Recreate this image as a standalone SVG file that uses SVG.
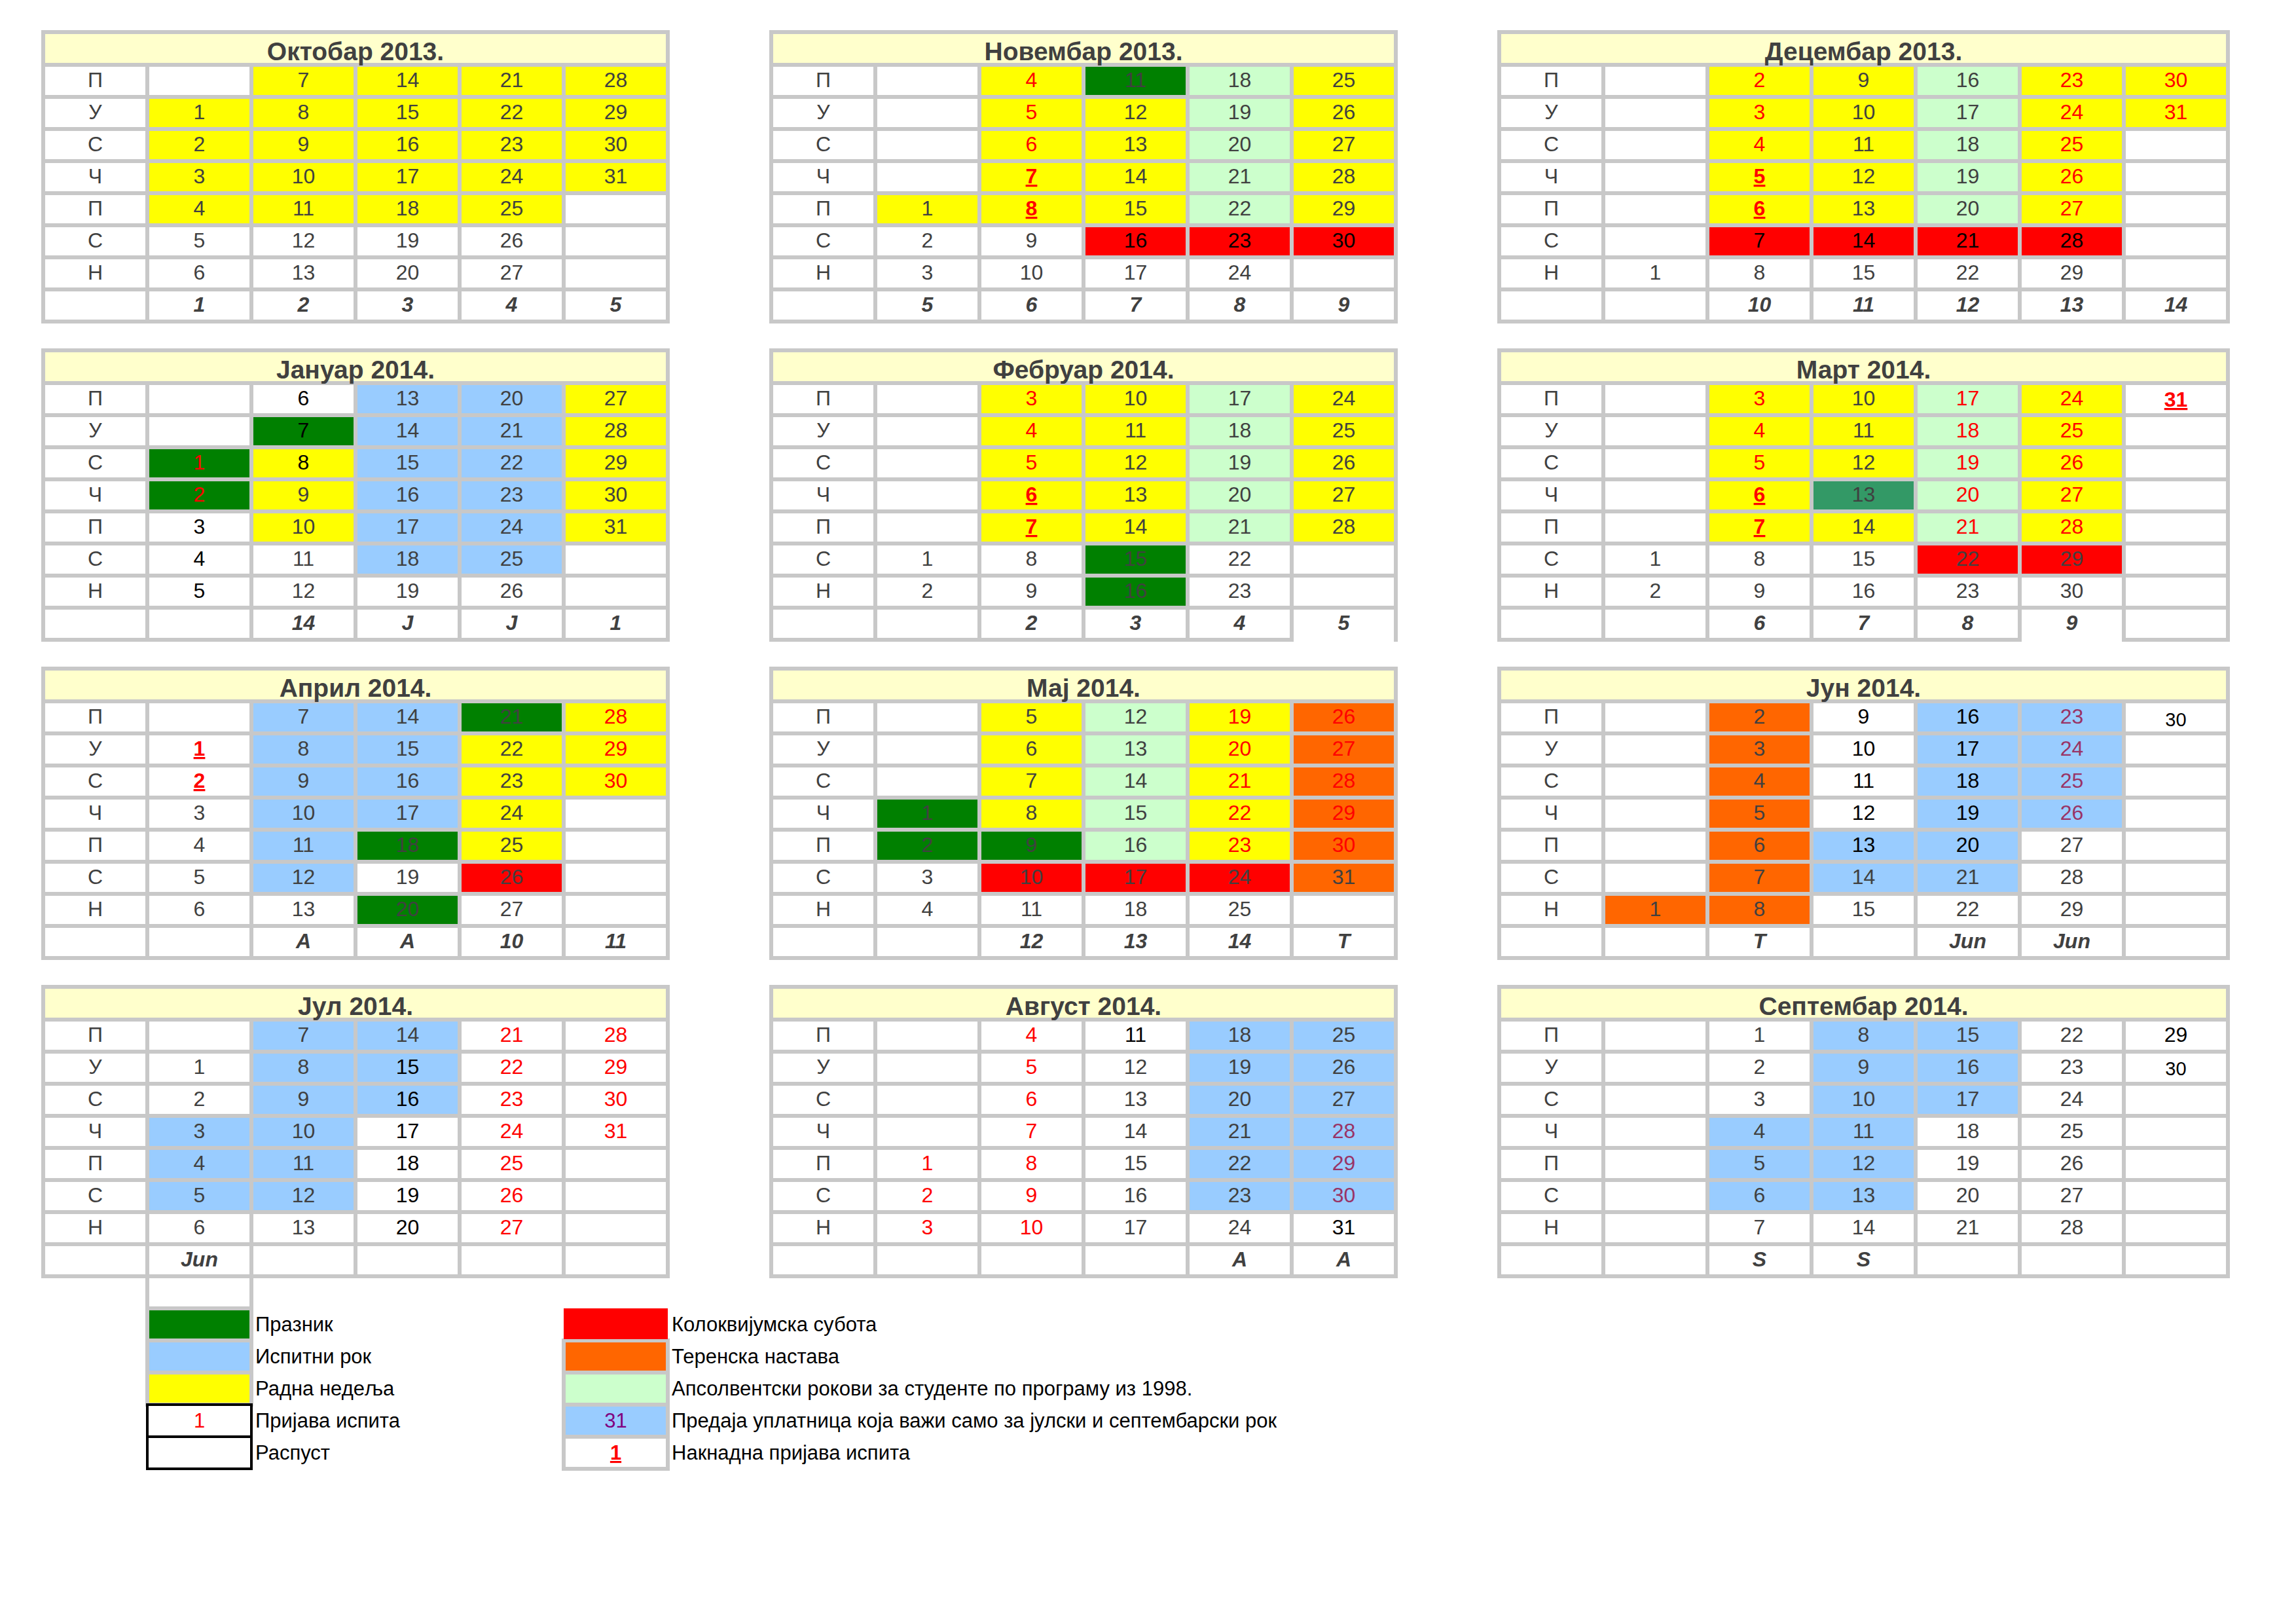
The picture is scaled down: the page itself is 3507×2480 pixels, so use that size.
<svg xmlns="http://www.w3.org/2000/svg" width="3507" height="2480" viewBox="0 0 3507 2480">
<style>
.m text{font-family:"Liberation Sans",Arial,sans-serif;font-size:32px;fill:#404040;text-anchor:middle}
.m .k{fill:#000}
.m .r{fill:#f00}
.m .p{fill:#993366}
.m .u{fill:#f00;font-weight:bold;text-decoration:underline}
.m .w{font-weight:bold;font-style:italic}
.m .t{font-size:39px;font-weight:bold}
.T{fill:#ffc}.Y{fill:#ff0}.G{fill:#008000}.L{fill:#cfc}.B{fill:#9cf}.R{fill:#f00}.O{fill:#f60}.S{fill:#396}
.lg text{font-family:"Liberation Sans",Arial,sans-serif;font-size:31px;fill:#000}
.lg .c{text-anchor:middle}
.gb{stroke:#c8c8c8;stroke-width:6}
.bb{stroke:#000;stroke-width:4}
</style>
<defs>
<path id="g6" fill="none" stroke="#c8c8c8" stroke-width="6" stroke-linecap="square" d="M0,0H954M0,50H954M0,99H954M0,148H954M0,197H954M0,246H954M0,295H954M0,344H954M0,393H954M0,442H954M0,0V442M159,50V442M318,50V442M477,50V442M636,50V442M795,50V442M954,0V442"/>
<path id="g7" fill="none" stroke="#c8c8c8" stroke-width="6" stroke-linecap="square" d="M0,0H1113M0,50H1113M0,99H1113M0,148H1113M0,197H1113M0,246H1113M0,295H1113M0,344H1113M0,393H1113M0,442H1113M0,0V442M159,50V442M318,50V442M477,50V442M636,50V442M795,50V442M954,50V442M1113,0V442"/>
<g id="dl" font-family="Liberation Sans, Arial, sans-serif" font-size="32" fill="#404040" text-anchor="middle">
<text x="79.5" y="84">П</text><text x="79.5" y="133">У</text><text x="79.5" y="182">С</text><text x="79.5" y="231">Ч</text><text x="79.5" y="280">П</text><text x="79.5" y="329">С</text><text x="79.5" y="378">Н</text>
</g>
</defs>
<rect width="3507" height="2480" fill="#fff"/>

<g id="oct" class="m" transform="translate(66,49)">
<rect width="954" height="442" fill="#fff"/><rect width="954" height="50" class="T"/>
<rect class="Y" x="159" y="99" width="159" height="196"/>
<rect class="Y" x="318" y="50" width="477" height="245"/>
<rect class="Y" x="795" y="50" width="159" height="196"/>
<use href="#g6"/><use href="#dl"/>
<text class="t" x="477" y="43">Октобар 2013.</text>
<text x="238.5" y="133">1</text><text x="238.5" y="182">2</text><text x="238.5" y="231">3</text><text x="238.5" y="280">4</text><text x="238.5" y="329">5</text><text x="238.5" y="378">6</text>
<text x="397.5" y="84">7</text><text x="397.5" y="133">8</text><text x="397.5" y="182">9</text><text x="397.5" y="231">10</text><text x="397.5" y="280">11</text><text x="397.5" y="329">12</text><text x="397.5" y="378">13</text>
<text x="556.5" y="84">14</text><text x="556.5" y="133">15</text><text x="556.5" y="182">16</text><text x="556.5" y="231">17</text><text x="556.5" y="280">18</text><text x="556.5" y="329">19</text><text x="556.5" y="378">20</text>
<text x="715.5" y="84">21</text><text x="715.5" y="133">22</text><text x="715.5" y="182">23</text><text x="715.5" y="231">24</text><text x="715.5" y="280">25</text><text x="715.5" y="329">26</text><text x="715.5" y="378">27</text>
<text x="874.5" y="84">28</text><text x="874.5" y="133">29</text><text x="874.5" y="182">30</text><text x="874.5" y="231">31</text>
<text class="w" x="238.5" y="427">1</text><text class="w" x="397.5" y="427">2</text><text class="w" x="556.5" y="427">3</text><text class="w" x="715.5" y="427">4</text><text class="w" x="874.5" y="427">5</text>
</g>

<g id="nov" class="m" transform="translate(1178,49)">
<rect width="954" height="442" fill="#fff"/><rect width="954" height="50" class="T"/>
<rect class="Y" x="159" y="246" width="159" height="49"/>
<rect class="Y" x="318" y="50" width="159" height="245"/>
<rect class="G" x="477" y="50" width="159" height="49"/>
<rect class="Y" x="477" y="99" width="159" height="196"/>
<rect class="L" x="636" y="50" width="159" height="245"/>
<rect class="Y" x="795" y="50" width="159" height="245"/>
<rect class="R" x="477" y="295" width="477" height="49"/>
<use href="#g6"/><use href="#dl"/>
<text class="t" x="477" y="43">Новембар 2013.</text>
<text x="238.5" y="280">1</text><text x="238.5" y="329">2</text><text x="238.5" y="378">3</text>
<text class="r" x="397.5" y="84">4</text><text class="r" x="397.5" y="133">5</text><text class="r" x="397.5" y="182">6</text><text class="u" x="397.5" y="231">7</text><text class="u" x="397.5" y="280">8</text><text x="397.5" y="329">9</text><text x="397.5" y="378">10</text>
<text x="556.5" y="84">11</text><text x="556.5" y="133">12</text><text x="556.5" y="182">13</text><text x="556.5" y="231">14</text><text x="556.5" y="280">15</text><text class="k" x="556.5" y="329">16</text><text x="556.5" y="378">17</text>
<text x="715.5" y="84">18</text><text x="715.5" y="133">19</text><text x="715.5" y="182">20</text><text x="715.5" y="231">21</text><text x="715.5" y="280">22</text><text class="k" x="715.5" y="329">23</text><text x="715.5" y="378">24</text>
<text x="874.5" y="84">25</text><text x="874.5" y="133">26</text><text x="874.5" y="182">27</text><text x="874.5" y="231">28</text><text x="874.5" y="280">29</text><text class="k" x="874.5" y="329">30</text>
<text class="w" x="238.5" y="427">5</text><text class="w" x="397.5" y="427">6</text><text class="w" x="556.5" y="427">7</text><text class="w" x="715.5" y="427">8</text><text class="w" x="874.5" y="427">9</text>
</g>

<g id="dec" class="m" transform="translate(2290,49)">
<rect width="1113" height="442" fill="#fff"/><rect width="1113" height="50" class="T"/>
<rect class="Y" x="318" y="50" width="318" height="245"/>
<rect class="L" x="636" y="50" width="159" height="245"/>
<rect class="Y" x="795" y="50" width="159" height="245"/>
<rect class="Y" x="954" y="50" width="159" height="98"/>
<rect class="R" x="318" y="295" width="636" height="49"/>
<use href="#g7"/><use href="#dl"/>
<text class="t" x="556.5" y="43">Децембар 2013.</text>
<text x="238.5" y="378">1</text>
<text class="r" x="397.5" y="84">2</text><text class="r" x="397.5" y="133">3</text><text class="r" x="397.5" y="182">4</text><text class="u" x="397.5" y="231">5</text><text class="u" x="397.5" y="280">6</text><text class="k" x="397.5" y="329">7</text><text x="397.5" y="378">8</text>
<text x="556.5" y="84">9</text><text x="556.5" y="133">10</text><text x="556.5" y="182">11</text><text x="556.5" y="231">12</text><text x="556.5" y="280">13</text><text class="k" x="556.5" y="329">14</text><text x="556.5" y="378">15</text>
<text x="715.5" y="84">16</text><text x="715.5" y="133">17</text><text x="715.5" y="182">18</text><text x="715.5" y="231">19</text><text x="715.5" y="280">20</text><text class="k" x="715.5" y="329">21</text><text x="715.5" y="378">22</text>
<text class="r" x="874.5" y="84">23</text><text class="r" x="874.5" y="133">24</text><text class="r" x="874.5" y="182">25</text><text class="r" x="874.5" y="231">26</text><text class="r" x="874.5" y="280">27</text><text class="k" x="874.5" y="329">28</text><text x="874.5" y="378">29</text>
<text class="r" x="1033.5" y="84">30</text><text class="r" x="1033.5" y="133">31</text>
<text class="w" x="397.5" y="427">10</text><text class="w" x="556.5" y="427">11</text><text class="w" x="715.5" y="427">12</text><text class="w" x="874.5" y="427">13</text><text class="w" x="1033.5" y="427">14</text>
</g>

<g id="jan" class="m" transform="translate(66,535)">
<rect width="954" height="442" fill="#fff"/><rect width="954" height="50" class="T"/>
<rect class="G" x="159" y="148" width="159" height="98"/>
<rect class="G" x="318" y="99" width="159" height="49"/>
<rect class="Y" x="318" y="148" width="159" height="147"/>
<rect class="B" x="477" y="50" width="318" height="294"/>
<rect class="Y" x="795" y="50" width="159" height="245"/>
<use href="#g6"/><use href="#dl"/>
<text class="t" x="477" y="43">Јануар 2014.</text>
<text class="r" x="238.5" y="182">1</text><text class="r" x="238.5" y="231">2</text><text class="k" x="238.5" y="280">3</text><text class="k" x="238.5" y="329">4</text><text class="k" x="238.5" y="378">5</text>
<text class="k" x="397.5" y="84">6</text><text class="k" x="397.5" y="133">7</text><text class="k" x="397.5" y="182">8</text><text x="397.5" y="231">9</text><text x="397.5" y="280">10</text><text x="397.5" y="329">11</text><text x="397.5" y="378">12</text>
<text x="556.5" y="84">13</text><text x="556.5" y="133">14</text><text x="556.5" y="182">15</text><text x="556.5" y="231">16</text><text x="556.5" y="280">17</text><text x="556.5" y="329">18</text><text x="556.5" y="378">19</text>
<text x="715.5" y="84">20</text><text x="715.5" y="133">21</text><text x="715.5" y="182">22</text><text x="715.5" y="231">23</text><text x="715.5" y="280">24</text><text x="715.5" y="329">25</text><text x="715.5" y="378">26</text>
<text x="874.5" y="84">27</text><text x="874.5" y="133">28</text><text x="874.5" y="182">29</text><text x="874.5" y="231">30</text><text x="874.5" y="280">31</text>
<text class="w" x="397.5" y="427">14</text><text class="w" x="556.5" y="427">J</text><text class="w" x="715.5" y="427">J</text><text class="w" x="874.5" y="427">1</text>
</g>

<g id="feb" class="m" transform="translate(1178,535)">
<rect width="954" height="442" fill="#fff"/><rect width="954" height="50" class="T"/>
<rect class="Y" x="318" y="50" width="318" height="245"/>
<rect class="G" x="477" y="295" width="159" height="98"/>
<rect class="L" x="636" y="50" width="159" height="245"/>
<rect class="Y" x="795" y="50" width="159" height="245"/>
<use href="#g6"/><use href="#dl"/>
<rect x="798" y="439" width="153" height="7" fill="#fff"/>
<text class="t" x="477" y="43">Фебруар 2014.</text>
<text x="238.5" y="329">1</text><text x="238.5" y="378">2</text>
<text class="r" x="397.5" y="84">3</text><text class="r" x="397.5" y="133">4</text><text class="r" x="397.5" y="182">5</text><text class="u" x="397.5" y="231">6</text><text class="u" x="397.5" y="280">7</text><text x="397.5" y="329">8</text><text x="397.5" y="378">9</text>
<text x="556.5" y="84">10</text><text x="556.5" y="133">11</text><text x="556.5" y="182">12</text><text x="556.5" y="231">13</text><text x="556.5" y="280">14</text><text x="556.5" y="329">15</text><text x="556.5" y="378">16</text>
<text x="715.5" y="84">17</text><text x="715.5" y="133">18</text><text x="715.5" y="182">19</text><text x="715.5" y="231">20</text><text x="715.5" y="280">21</text><text x="715.5" y="329">22</text><text x="715.5" y="378">23</text>
<text x="874.5" y="84">24</text><text x="874.5" y="133">25</text><text x="874.5" y="182">26</text><text x="874.5" y="231">27</text><text x="874.5" y="280">28</text>
<text class="w" x="397.5" y="427">2</text><text class="w" x="556.5" y="427">3</text><text class="w" x="715.5" y="427">4</text><text class="w" x="874.5" y="427">5</text>
</g>

<g id="mar" class="m" transform="translate(2290,535)">
<rect width="1113" height="442" fill="#fff"/><rect width="1113" height="50" class="T"/>
<rect class="Y" x="318" y="50" width="159" height="245"/>
<rect class="Y" x="477" y="50" width="159" height="147"/>
<rect class="S" x="477" y="197" width="159" height="49"/>
<rect class="Y" x="477" y="246" width="159" height="49"/>
<rect class="L" x="636" y="50" width="159" height="245"/>
<rect class="Y" x="795" y="50" width="159" height="245"/>
<rect class="R" x="636" y="295" width="318" height="49"/>
<use href="#g7"/><use href="#dl"/>
<rect x="798" y="439" width="153" height="7" fill="#fff"/>
<text class="t" x="556.5" y="43">Март 2014.</text>
<text x="238.5" y="329">1</text><text x="238.5" y="378">2</text>
<text class="r" x="397.5" y="84">3</text><text class="r" x="397.5" y="133">4</text><text class="r" x="397.5" y="182">5</text><text class="u" x="397.5" y="231">6</text><text class="u" x="397.5" y="280">7</text><text x="397.5" y="329">8</text><text x="397.5" y="378">9</text>
<text x="556.5" y="84">10</text><text x="556.5" y="133">11</text><text x="556.5" y="182">12</text><text x="556.5" y="231">13</text><text x="556.5" y="280">14</text><text x="556.5" y="329">15</text><text x="556.5" y="378">16</text>
<text class="r" x="715.5" y="84">17</text><text class="r" x="715.5" y="133">18</text><text class="r" x="715.5" y="182">19</text><text class="r" x="715.5" y="231">20</text><text class="r" x="715.5" y="280">21</text><text x="715.5" y="329">22</text><text x="715.5" y="378">23</text>
<text class="r" x="874.5" y="84">24</text><text class="r" x="874.5" y="133">25</text><text class="r" x="874.5" y="182">26</text><text class="r" x="874.5" y="231">27</text><text class="r" x="874.5" y="280">28</text><text x="874.5" y="329">29</text><text x="874.5" y="378">30</text>
<text class="u" x="1033.5" y="86">31</text>
<text class="w" x="397.5" y="427">6</text><text class="w" x="556.5" y="427">7</text><text class="w" x="715.5" y="427">8</text><text class="w" x="874.5" y="427">9</text>
</g>

<g id="apr" class="m" transform="translate(66,1021)">
<rect width="954" height="442" fill="#fff"/><rect width="954" height="50" class="T"/>
<rect class="B" x="318" y="50" width="159" height="294"/>
<rect class="B" x="477" y="50" width="159" height="196"/>
<rect class="G" x="477" y="246" width="159" height="49"/>
<rect class="G" x="477" y="344" width="159" height="49"/>
<rect class="G" x="636" y="50" width="159" height="49"/>
<rect class="Y" x="636" y="99" width="159" height="196"/>
<rect class="R" x="636" y="295" width="159" height="49"/>
<rect class="Y" x="795" y="50" width="159" height="147"/>
<use href="#g6"/><use href="#dl"/>
<text class="t" x="477" y="43">Април 2014.</text>
<text class="u" x="238.5" y="133">1</text><text class="u" x="238.5" y="182">2</text><text x="238.5" y="231">3</text><text x="238.5" y="280">4</text><text x="238.5" y="329">5</text><text x="238.5" y="378">6</text>
<text x="397.5" y="84">7</text><text x="397.5" y="133">8</text><text x="397.5" y="182">9</text><text x="397.5" y="231">10</text><text x="397.5" y="280">11</text><text x="397.5" y="329">12</text><text x="397.5" y="378">13</text>
<text x="556.5" y="84">14</text><text x="556.5" y="133">15</text><text x="556.5" y="182">16</text><text x="556.5" y="231">17</text><text x="556.5" y="280">18</text><text x="556.5" y="329">19</text><text x="556.5" y="378">20</text>
<text x="715.5" y="84">21</text><text x="715.5" y="133">22</text><text x="715.5" y="182">23</text><text x="715.5" y="231">24</text><text x="715.5" y="280">25</text><text x="715.5" y="329">26</text><text x="715.5" y="378">27</text>
<text class="r" x="874.5" y="84">28</text><text class="r" x="874.5" y="133">29</text><text class="r" x="874.5" y="182">30</text>
<text class="w" x="397.5" y="427">A</text><text class="w" x="556.5" y="427">A</text><text class="w" x="715.5" y="427">10</text><text class="w" x="874.5" y="427">11</text>
</g>

<g id="may" class="m" transform="translate(1178,1021)">
<rect width="954" height="442" fill="#fff"/><rect width="954" height="50" class="T"/>
<rect class="G" x="159" y="197" width="159" height="98"/>
<rect class="Y" x="318" y="50" width="159" height="196"/>
<rect class="G" x="318" y="246" width="159" height="49"/>
<rect class="L" x="477" y="50" width="159" height="245"/>
<rect class="Y" x="636" y="50" width="159" height="245"/>
<rect class="O" x="795" y="50" width="159" height="294"/>
<rect class="R" x="318" y="295" width="477" height="49"/>
<use href="#g6"/><use href="#dl"/>
<text class="t" x="477" y="43">Мај 2014.</text>
<text x="238.5" y="231">1</text><text x="238.5" y="280">2</text><text x="238.5" y="329">3</text><text x="238.5" y="378">4</text>
<text x="397.5" y="84">5</text><text x="397.5" y="133">6</text><text x="397.5" y="182">7</text><text x="397.5" y="231">8</text><text x="397.5" y="280">9</text><text x="397.5" y="329">10</text><text x="397.5" y="378">11</text>
<text x="556.5" y="84">12</text><text x="556.5" y="133">13</text><text x="556.5" y="182">14</text><text x="556.5" y="231">15</text><text x="556.5" y="280">16</text><text x="556.5" y="329">17</text><text x="556.5" y="378">18</text>
<text class="r" x="715.5" y="84">19</text><text class="r" x="715.5" y="133">20</text><text class="r" x="715.5" y="182">21</text><text class="r" x="715.5" y="231">22</text><text class="r" x="715.5" y="280">23</text><text x="715.5" y="329">24</text><text x="715.5" y="378">25</text>
<text class="r" x="874.5" y="84">26</text><text class="r" x="874.5" y="133">27</text><text class="r" x="874.5" y="182">28</text><text class="r" x="874.5" y="231">29</text><text class="r" x="874.5" y="280">30</text><text x="874.5" y="329">31</text>
<text class="w" x="397.5" y="427">12</text><text class="w" x="556.5" y="427">13</text><text class="w" x="715.5" y="427">14</text><text class="w" x="874.5" y="427">T</text>
</g>

<g id="jun" class="m" transform="translate(2290,1021)">
<rect width="1113" height="442" fill="#fff"/><rect width="1113" height="50" class="T"/>
<rect class="O" x="159" y="344" width="159" height="49"/>
<rect class="O" x="318" y="50" width="159" height="343"/>
<rect class="B" x="477" y="246" width="159" height="98"/>
<rect class="B" x="636" y="50" width="159" height="294"/>
<rect class="B" x="795" y="50" width="159" height="196"/>
<use href="#g7"/><use href="#dl"/>
<text class="t" x="556.5" y="43">Јун 2014.</text>
<text x="238.5" y="378">1</text>
<text x="397.5" y="84">2</text><text x="397.5" y="133">3</text><text x="397.5" y="182">4</text><text x="397.5" y="231">5</text><text x="397.5" y="280">6</text><text x="397.5" y="329">7</text><text x="397.5" y="378">8</text>
<text class="k" x="556.5" y="84">9</text><text class="k" x="556.5" y="133">10</text><text class="k" x="556.5" y="182">11</text><text class="k" x="556.5" y="231">12</text><text class="k" x="556.5" y="280">13</text><text x="556.5" y="329">14</text><text x="556.5" y="378">15</text>
<text class="k" x="715.5" y="84">16</text><text class="k" x="715.5" y="133">17</text><text class="k" x="715.5" y="182">18</text><text class="k" x="715.5" y="231">19</text><text class="k" x="715.5" y="280">20</text><text x="715.5" y="329">21</text><text x="715.5" y="378">22</text>
<text class="p" x="874.5" y="84">23</text><text class="p" x="874.5" y="133">24</text><text class="p" x="874.5" y="182">25</text><text class="p" x="874.5" y="231">26</text><text x="874.5" y="280">27</text><text x="874.5" y="329">28</text><text x="874.5" y="378">29</text>
<text class="k" x="1033.5" y="88" style="font-size:29px">30</text>
<text class="w" x="397.5" y="427">T</text><text class="w" x="715.5" y="427">Jun</text><text class="w" x="874.5" y="427">Jun</text>
</g>

<g id="jul" class="m" transform="translate(66,1507)">
<rect width="954" height="442" fill="#fff"/><rect width="954" height="50" class="T"/>
<rect class="B" x="159" y="197" width="159" height="147"/>
<rect class="B" x="318" y="50" width="159" height="294"/>
<rect class="B" x="477" y="50" width="159" height="147"/>
<use href="#g6"/><use href="#dl"/>
<text class="t" x="477" y="43">Јул 2014.</text>
<text x="238.5" y="133">1</text><text x="238.5" y="182">2</text><text x="238.5" y="231">3</text><text x="238.5" y="280">4</text><text x="238.5" y="329">5</text><text x="238.5" y="378">6</text>
<text x="397.5" y="84">7</text><text x="397.5" y="133">8</text><text x="397.5" y="182">9</text><text x="397.5" y="231">10</text><text x="397.5" y="280">11</text><text x="397.5" y="329">12</text><text x="397.5" y="378">13</text>
<text x="556.5" y="84">14</text><text class="k" x="556.5" y="133">15</text><text class="k" x="556.5" y="182">16</text><text class="k" x="556.5" y="231">17</text><text class="k" x="556.5" y="280">18</text><text class="k" x="556.5" y="329">19</text><text class="k" x="556.5" y="378">20</text>
<text class="r" x="715.5" y="84">21</text><text class="r" x="715.5" y="133">22</text><text class="r" x="715.5" y="182">23</text><text class="r" x="715.5" y="231">24</text><text class="r" x="715.5" y="280">25</text><text class="r" x="715.5" y="329">26</text><text class="r" x="715.5" y="378">27</text>
<text class="r" x="874.5" y="84">28</text><text class="r" x="874.5" y="133">29</text><text class="r" x="874.5" y="182">30</text><text class="r" x="874.5" y="231">31</text>
<text class="w" x="238.5" y="427">Jun</text>
</g>

<g id="aug" class="m" transform="translate(1178,1507)">
<rect width="954" height="442" fill="#fff"/><rect width="954" height="50" class="T"/>
<rect class="B" x="636" y="50" width="318" height="294"/>
<use href="#g6"/><use href="#dl"/>
<text class="t" x="477" y="43">Август 2014.</text>
<text class="r" x="238.5" y="280">1</text><text class="r" x="238.5" y="329">2</text><text class="r" x="238.5" y="378">3</text>
<text class="r" x="397.5" y="84">4</text><text class="r" x="397.5" y="133">5</text><text class="r" x="397.5" y="182">6</text><text class="r" x="397.5" y="231">7</text><text class="r" x="397.5" y="280">8</text><text class="r" x="397.5" y="329">9</text><text class="r" x="397.5" y="378">10</text>
<text class="k" x="556.5" y="84">11</text><text x="556.5" y="133">12</text><text x="556.5" y="182">13</text><text x="556.5" y="231">14</text><text x="556.5" y="280">15</text><text x="556.5" y="329">16</text><text x="556.5" y="378">17</text>
<text x="715.5" y="84">18</text><text x="715.5" y="133">19</text><text x="715.5" y="182">20</text><text x="715.5" y="231">21</text><text x="715.5" y="280">22</text><text x="715.5" y="329">23</text><text x="715.5" y="378">24</text>
<text x="874.5" y="84">25</text><text x="874.5" y="133">26</text><text x="874.5" y="182">27</text><text class="p" x="874.5" y="231">28</text><text class="p" x="874.5" y="280">29</text><text class="p" x="874.5" y="329">30</text><text class="k" x="874.5" y="378">31</text>
<text class="w" x="715.5" y="427">A</text><text class="w" x="874.5" y="427">A</text>
</g>

<g id="sep" class="m" transform="translate(2290,1507)">
<rect width="1113" height="442" fill="#fff"/><rect width="1113" height="50" class="T"/>
<rect class="B" x="318" y="197" width="159" height="147"/>
<rect class="B" x="477" y="50" width="159" height="294"/>
<rect class="B" x="636" y="50" width="159" height="147"/>
<use href="#g7"/><use href="#dl"/>
<text class="t" x="556.5" y="43">Септембар 2014.</text>
<text x="397.5" y="84">1</text><text x="397.5" y="133">2</text><text x="397.5" y="182">3</text><text x="397.5" y="231">4</text><text x="397.5" y="280">5</text><text x="397.5" y="329">6</text><text x="397.5" y="378">7</text>
<text x="556.5" y="84">8</text><text x="556.5" y="133">9</text><text x="556.5" y="182">10</text><text x="556.5" y="231">11</text><text x="556.5" y="280">12</text><text x="556.5" y="329">13</text><text x="556.5" y="378">14</text>
<text x="715.5" y="84">15</text><text x="715.5" y="133">16</text><text x="715.5" y="182">17</text><text x="715.5" y="231">18</text><text x="715.5" y="280">19</text><text x="715.5" y="329">20</text><text x="715.5" y="378">21</text>
<text x="874.5" y="84">22</text><text x="874.5" y="133">23</text><text x="874.5" y="182">24</text><text x="874.5" y="231">25</text><text x="874.5" y="280">26</text><text x="874.5" y="329">27</text><text x="874.5" y="378">28</text>
<text class="k" x="1033.5" y="84">29</text><text class="k" x="1033.5" y="135" style="font-size:29px">30</text>
<text class="w" x="397.5" y="427">S</text><text class="w" x="556.5" y="427">S</text>
</g>

<g id="legend" class="lg">
<rect x="225" y="1949" width="159" height="49" fill="#fff" class="gb"/>
<rect x="225" y="1998" width="159" height="49" class="G gb"/>
<rect x="225" y="2047" width="159" height="49" class="B gb"/>
<rect x="225" y="2096" width="159" height="49" class="Y gb"/>
<rect x="225" y="2145" width="159" height="49" fill="#fff" class="bb"/>
<rect x="225" y="2194" width="159" height="49" fill="#fff" class="bb"/>
<text class="c" x="304.5" y="2180" style="fill:#f00">1</text>
<text x="390" y="2033">Празник</text>
<text x="390" y="2082">Испитни рок</text>
<text x="390" y="2131">Радна недеља</text>
<text x="390" y="2180">Пријава испита</text>
<text x="390" y="2229">Распуст</text>
<rect x="861" y="2047" width="159" height="49" class="O gb"/>
<rect x="861" y="2096" width="159" height="49" class="L gb"/>
<rect x="861" y="2145" width="159" height="49" class="B gb"/>
<rect x="861" y="2194" width="159" height="49" fill="#fff" class="gb"/>
<rect x="861" y="1998" width="159" height="47" class="R"/>
<text class="c" x="940.5" y="2180" style="fill:#800080">31</text>
<text class="c" x="940.5" y="2229" style="fill:#f00;font-weight:bold;text-decoration:underline">1</text>
<text x="1026" y="2033">Колоквијумска субота</text>
<text x="1026" y="2082">Теренска настава</text>
<text x="1026" y="2131">Апсолвентски рокови за студенте по програму из 1998.</text>
<text x="1026" y="2180">Предаја уплатница која важи само за јулски и септембарски рок</text>
<text x="1026" y="2229">Накнадна пријава испита</text>
</g>
</svg>
